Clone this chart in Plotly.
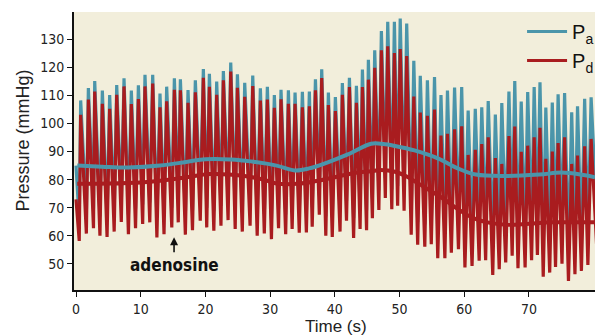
import plotly.graph_objects as go

# ---- data ----
start_t = 0.0
pa_start = 85.0
pd_start = 73.0

beat_t = [0.72, 1.91, 2.89, 4.07, 5.20, 6.29, 7.42, 8.55, 9.64, 10.66,
          11.85, 12.98, 14.01, 15.20, 16.13, 17.31, 18.44, 19.68, 20.61, 21.74,
          22.77, 23.91, 24.94, 26.07, 27.31, 28.49, 29.57, 30.65, 31.68, 32.82,
          33.85, 34.98, 36.06, 37.00, 37.97, 39.00, 40.08, 41.16, 42.25, 43.33,
          44.26, 45.18, 46.16, 47.19, 48.17, 49.20, 50.10, 51.10, 52.20, 53.20,
          54.30, 55.40, 56.40, 57.40, 58.50, 59.60, 60.60, 61.70, 62.70, 63.70,
          64.80, 65.80, 66.90, 67.80, 68.80, 69.80, 70.80, 71.70, 72.60, 73.60,
          74.50, 75.50, 76.60, 77.50, 78.60, 79.60]

pa_sys = [108.2, 112.6, 115.1, 111.7, 110.1, 113.7, 116.1, 111.7, 113.6, 117.3,
          117.3, 110.7, 113.1, 116.1, 115.7, 111.9, 115.4, 119.4, 117.7, 114.9,
          118.7, 121.7, 117.5, 114.5, 117.1, 112.5, 113.1, 110.1, 112.0, 111.8,
          111.0, 111.3, 111.4, 115.7, 119.3, 111.0, 109.4, 114.4, 116.3, 113.4,
          119.2, 122.7, 126.1, 132.9, 136.2, 136.2, 137.4, 135.6, 122.3, 117.0,
          115.4, 116.5, 110.1, 111.7, 112.8, 113.0, 104.6, 105.2, 105.8, 108.0,
          103.2, 107.3, 111.4, 115.1, 107.8, 111.2, 113.0, 114.7, 105.7, 107.5,
          110.4, 110.8, 104.0, 106.1, 108.8, 109.3]

pd_sys = [103.1, 108.5, 111.4, 107.0, 105.2, 110.2, 113.2, 106.9, 108.7, 113.2,
          114.2, 105.8, 107.9, 112.0, 111.8, 107.4, 111.1, 116.3, 113.1, 110.2,
          115.4, 118.5, 112.7, 109.5, 113.3, 108.2, 108.5, 105.6, 108.6, 107.0,
          107.0, 105.8, 106.1, 111.8, 116.2, 106.6, 104.4, 110.2, 113.0, 107.4,
          113.0, 115.6, 119.8, 126.1, 127.5, 125.1, 126.5, 124.0, 109.6, 103.9,
          102.7, 105.0, 95.7, 96.3, 97.9, 99.0, 88.8, 90.6, 92.7, 95.1,
          87.7, 85.6, 95.5, 98.9, 89.9, 92.1, 95.1, 98.5, 87.4, 90.0,
          93.0, 95.1, 85.6, 88.6, 91.9, 94.5]

trough_t = [0.5, 1.6, 2.7, 3.7, 4.8, 5.9, 7.0, 8.1, 9.2, 10.3,
            11.4, 12.5, 13.6, 14.8, 15.8, 16.9, 18.0, 19.2, 20.2, 21.3,
            22.4, 23.5, 24.6, 25.7, 26.9, 28.0, 29.1, 30.2, 31.3, 32.4,
            33.4, 34.5, 35.6, 36.5, 37.6, 38.6, 39.6, 40.8, 41.8, 42.9,
            43.9, 44.9, 45.8, 46.8, 47.8, 48.8, 49.7, 50.7, 51.8, 52.8,
            53.9, 54.9, 55.9, 57.0, 58.0, 59.1, 60.1, 61.2, 62.3, 63.3,
            64.4, 65.4, 66.4, 67.4, 68.3, 69.4, 70.4, 71.3, 72.2, 73.2,
            74.1, 75.1, 76.1, 77.1, 78.1, 79.1, 80.6]

pd_dia = [58.2, 60.8, 62.7, 60.0, 59.6, 61.5, 64.9, 60.6, 62.7, 64.2,
          64.8, 59.4, 60.6, 63.0, 64.8, 60.4, 62.0, 65.4, 63.0, 61.8,
          63.6, 65.6, 62.4, 61.5, 63.6, 60.0, 60.8, 58.8, 62.7, 60.6,
          62.4, 61.1, 61.2, 63.2, 67.5, 60.0, 59.6, 61.5, 65.4, 59.2,
          62.4, 62.0, 66.3, 69.2, 73.5, 69.5, 70.7, 68.9, 60.4, 56.8,
          56.1, 57.0, 52.0, 52.0, 54.0, 55.2, 48.7, 49.3, 51.1, 51.3,
          46.1, 48.1, 50.5, 52.9, 48.5, 48.7, 51.3, 53.2, 45.4, 46.9,
          48.9, 50.1, 43.9, 46.3, 47.5, 49.6, 50.0]

pa_dia = [65.2, 67.8, 69.7, 67.0, 66.6, 68.5, 71.9, 67.6, 69.7, 71.2,
          71.8, 66.4, 67.6, 70.0, 71.8, 67.4, 69.0, 72.4, 70.0, 68.8,
          70.6, 72.6, 69.4, 68.5, 70.6, 67.0, 67.8, 65.8, 69.7, 67.6,
          69.4, 68.1, 68.2, 70.2, 74.5, 67.0, 66.6, 68.5, 72.4, 66.2,
          69.4, 69.0, 73.3, 76.2, 80.5, 76.5, 77.7, 75.9, 68.4, 64.8,
          64.1, 65.0, 61.0, 61.0, 63.0, 66.2, 59.7, 60.3, 62.1, 62.3,
          57.1, 59.1, 61.5, 63.9, 59.5, 59.7, 62.3, 64.2, 56.4, 57.9,
          59.9, 61.1, 54.9, 57.3, 58.5, 60.6, 61.0]

mean_t = [0.2, 4, 8, 13, 17, 20, 24, 27, 31, 33.8, 36, 38.7, 42, 45.6, 47.5,
          49.3, 52.3, 56, 59, 61.8, 66.5, 71.6, 75, 78, 80.2]
pa_mean = [85.0, 84.6, 84.3, 85.0, 86.3, 87.3, 87.2, 86.5, 85.0, 83.3, 84.0,
           86.0, 89.0, 92.8, 92.7, 92.0, 90.4, 87.5, 84.0, 81.8, 81.3, 81.8,
           82.5, 81.8, 80.8]

pdm_t = [0.2, 5, 10, 13, 17, 20.7, 25.8, 29, 31, 34.6, 38.7, 42.8, 45.6, 47,
         49.3, 51.1, 53, 56.3, 59.4, 61.4, 64, 66.6, 70, 73.3, 80.2]
pd_mean = [78.5, 78.6, 79.0, 79.6, 80.8, 82.0, 81.4, 80.0, 78.6, 78.6, 80.2,
           82.3, 83.0, 83.4, 82.8, 81.1, 78.5, 73.9, 68.9, 66.3, 64.6, 63.9,
           64.3, 64.8, 64.8]

x_ticks = [0, 10, 20, 30, 40, 50, 60, 70]
y_ticks = [50, 60, 70, 80, 90, 100, 110, 120, 130]

marker_t = 15.15
marker_label = "adenosine"

# ---- build pulse sequences from the beat tables ----
def pulse(t0, v0, tt, dia, bt, sys):
    xs, ys = [t0], [v0]
    for k in range(len(bt)):
        xs += [tt[k], bt[k]]
        ys += [dia[k], sys[k]]
    xs.append(tt[-1]); ys.append(dia[-1])
    return xs, ys

pa_x, pa_y = pulse(start_t, pa_start, trough_t, pa_dia, beat_t, pa_sys)
pd_x, pd_y = pulse(start_t, pd_start, trough_t, pd_dia, beat_t, pd_sys)

TEAL = "#4b95aa"
RED = "#a91c1f"
BG = "#f2eedb"
NARROW = "DejaVu Sans Condensed, Liberation Sans Narrow, Liberation Sans, sans-serif"
SANS = "Liberation Sans, Arial, sans-serif"

fig = go.Figure()
fig.add_trace(go.Scatter(x=pa_x, y=pa_y, mode="lines", name="P<sub>a</sub>",
                         line=dict(color=TEAL, width=3.2)))
fig.add_trace(go.Scatter(x=pd_x, y=pd_y, mode="lines", name="P<sub>d</sub>",
                         line=dict(color=RED, width=3.2)))
fig.add_trace(go.Scatter(x=mean_t, y=pa_mean, mode="lines", showlegend=False,
                         line=dict(color=TEAL, width=4, shape="spline")))
fig.add_trace(go.Scatter(x=pdm_t, y=pd_mean, mode="lines", showlegend=False,
                         line=dict(color=RED, width=4, shape="spline")))

fig.add_annotation(x=marker_t, y=49.6, text="<b>" + marker_label + "</b>",
                   showarrow=False, xanchor="center", yanchor="middle",
                   font=dict(family=NARROW, size=17, color="#111"))
fig.add_annotation(x=marker_t, y=59.5, ax=marker_t, ay=53.6, axref="x", ayref="y",
                   text="", showarrow=True, arrowhead=2, arrowsize=1,
                   arrowwidth=1.6, arrowcolor="#111")

fig.add_annotation(xref="paper", yref="paper", x=(335.7 - 74) / 521,
                   y=-(326.5 - 290) / 278, text="Time (s)", showarrow=False,
                   xanchor="center", yanchor="middle",
                   font=dict(family=SANS, size=17, color="#222"))
fig.add_annotation(xref="paper", yref="paper", x=-(74 - 22.5) / 521,
                   y=(290 - 141) / 278, text="Pressure (mmHg)", showarrow=False,
                   xanchor="center", yanchor="middle",
                   textangle=-90, font=dict(family=SANS, size=18, color="#222"))

axis_common = dict(showline=True, linecolor="#111", linewidth=2, ticks="outside",
                   ticklen=5, tickwidth=1.3, tickcolor="#111", showgrid=False,
                   zeroline=False, tickfont=dict(family=NARROW, size=14, color="#222"))

fig.update_xaxes(range=[-0.31, 80.2], tickvals=x_ticks, **axis_common)
fig.update_yaxes(range=[40.7, 139.7], tickvals=y_ticks, **axis_common)

fig.update_layout(
    width=595, height=336,
    margin=dict(l=74, r=0, t=12, b=46, autoexpand=False),
    paper_bgcolor="white", plot_bgcolor=BG,
    showlegend=True,
    legend=dict(x=0.86, xanchor="left", y=1.0, yanchor="top",
                bgcolor="rgba(0,0,0,0)", font=dict(family=SANS, size=20, color="#111"),
                itemwidth=40),
)

fig.write_html("out.html", config={"displayModeBar": False},
               post_script="document.body.style.margin='0';document.body.style.overflow='hidden';")
